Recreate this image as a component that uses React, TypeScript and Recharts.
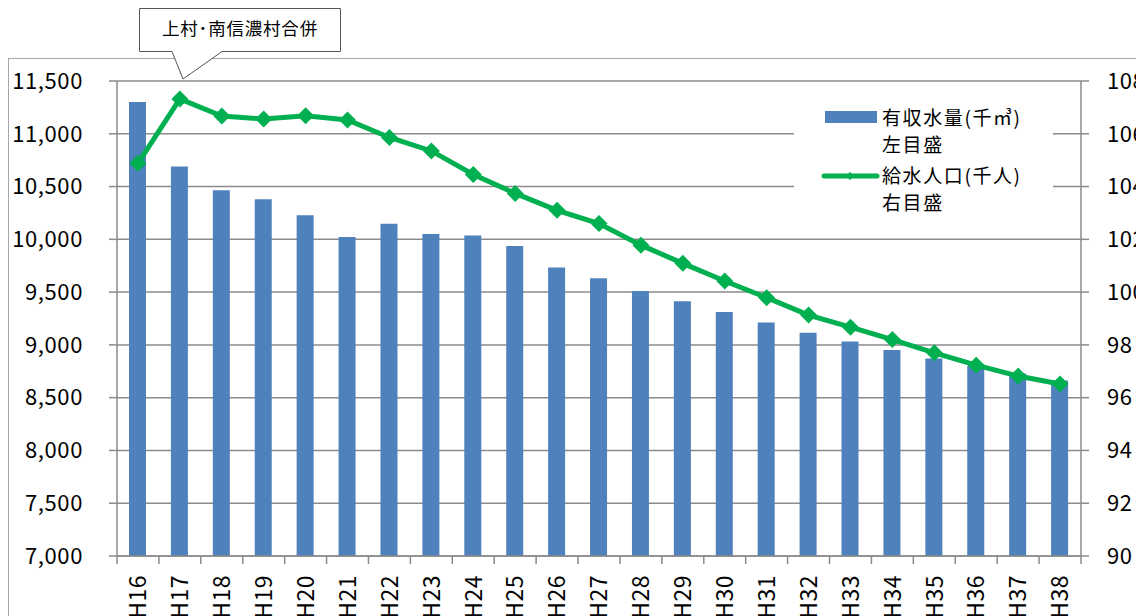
import { ComposedChart, Bar, Line, XAxis, YAxis, CartesianGrid, Legend } from "recharts";

const years = [
  "H16", "H17", "H18", "H19", "H20", "H21", "H22", "H23", "H24", "H25", "H26", "H27",
  "H28", "H29", "H30", "H31", "H32", "H33", "H34", "H35", "H36", "H37", "H38",
];

// 有収水量 (千㎥) - left axis
const waterVolume = [
  11300, 10690, 10465, 10380, 10228, 10023, 10147, 10051, 10036, 9937, 9732, 9631,
  9510, 9413, 9311, 9211, 9116, 9032, 8951, 8872, 8800, 8730, 8663,
];

// 給水人口 (千人) - right axis
const population = [
  104.88, 107.32, 106.67, 106.56, 106.68, 106.52, 105.86, 105.35, 104.46, 103.74, 103.1, 102.6,
  101.78, 101.09, 100.42, 99.79, 99.13, 98.67, 98.2, 97.7, 97.23, 96.82, 96.52,
];

const leftTicks = [7000, 7500, 8000, 8500, 9000, 9500, 10000, 10500, 11000, 11500];
const rightTicks = [90, 92, 94, 96, 98, 100, 102, 104, 106, 108];

const waterLabel = ["有収水量(千㎥)", "左目盛"];
const popLabel = ["給水人口(千人)", "右目盛"];
const noteText = "上村･南信濃村合併";

const data = years.map((name, i) => ({ name, water: waterVolume[i], pop: population[i] }));

const FONT = '"Noto Sans CJK JP", "Noto Sans", sans-serif';
const GRID = "#8b8b8b";
const BLUE = "#4F81BD";
const GREEN = "#00B050";
const W = 1136;
const H = 608;
const PLOT_W = 964;
const HALF_BAND = PLOT_W / years.length / 2;

function XTick(props: any) {
  const { x, y, payload, index } = props;
  const half = payload && payload.offset ? payload.offset : HALF_BAND;
  const ty = y + 19;
  return (
    <g>
      <line x1={x - half} x2={x - half} y1={y} y2={y + 8} stroke={GRID} strokeWidth={1.5} />
      {index === years.length - 1 && (
        <line x1={x + half} x2={x + half} y1={y} y2={y + 8} stroke={GRID} strokeWidth={1.5} />
      )}
      <text
        x={x}
        y={ty}
        dy="0.36em"
        transform={`rotate(-90, ${x}, ${ty})`}
        textAnchor="end"
        fill="#000"
        fontSize={23}
        letterSpacing={0.5}
        fontFamily={FONT}
      >
        {payload.value}
      </text>
    </g>
  );
}

function Diamond(props: any) {
  const { cx, cy } = props;
  if (cx == null || cy == null) return null;
  const r = 8.5;
  return <path d={`M${cx},${cy - r}L${cx + r},${cy}L${cx},${cy + r}L${cx - r},${cy}Z`} fill={GREEN} />;
}

function LegendBox() {
  const textStyle = { fontSize: 19, fontFamily: FONT, fill: "#000", letterSpacing: 1.6 };
  return (
    <svg width={259} height={148} style={{ display: "block", background: "#fff" }}>
      <rect x={31} y={21} width={52} height={12} fill={BLUE} />
      <text x={88} y={28} dy="0.35em" {...textStyle}>{waterLabel[0]}</text>
      <text x={88} y={55} dy="0.35em" {...textStyle}>{waterLabel[1]}</text>
      <line x1={30} x2={83} y1={86} y2={86} stroke={GREEN} strokeWidth={5} strokeLinecap="round" />
      <path d="M56,82L60,86L56,90L52,86Z" fill={GREEN} />
      <text x={88} y={86} dy="0.35em" {...textStyle}>{popLabel[0]}</text>
      <text x={88} y={113} dy="0.35em" {...textStyle}>{popLabel[1]}</text>
    </svg>
  );
}

export default function App() {
  const tickFont = { fill: "#000", fontSize: 22, fontFamily: FONT, letterSpacing: 0.6 };
  return (
    <div style={{ position: "relative", width: W, height: H, overflow: "hidden", fontFamily: FONT }}>
      <div
        style={{
          position: "absolute",
          left: 0,
          top: 50,
          width: 2000,
          height: 2000,
          border: "1.5px solid #a6a6a6",
        }}
      />
      <div style={{ position: "absolute", left: 0, top: 0 }}>
        <ComposedChart width={W} height={H} data={data} margin={{ top: 73, right: 0, bottom: 0, left: 0 }}>
          <CartesianGrid vertical={false} stroke={GRID} strokeWidth={1.5} />
          <XAxis
            dataKey="name"
            interval={0}
            height={60}
            tickSize={0}
            tickMargin={0}
            tickLine={false}
            axisLine={{ stroke: GRID, strokeWidth: 1.5 }}
            tick={<XTick />}
          />
          <YAxis
            domain={[7000, 11500]}
            ticks={leftTicks}
            width={109}
            tickSize={8}
            tickMargin={26}
            axisLine={{ stroke: GRID, strokeWidth: 1.5 }}
            tickLine={{ stroke: GRID, strokeWidth: 1.5 }}
            tick={tickFont}
            tickFormatter={(v: number) => v.toLocaleString("en-US")}
            allowDataOverflow
          />
          <YAxis
            yAxisId="right"
            orientation="right"
            domain={[90, 108]}
            ticks={rightTicks}
            width={63}
            tickSize={8}
            tickMargin={18}
            axisLine={{ stroke: GRID, strokeWidth: 1.5 }}
            tickLine={{ stroke: GRID, strokeWidth: 1.5 }}
            tick={{ ...tickFont, textAnchor: "start" }}
            allowDataOverflow
          />
          <Legend
            layout="vertical"
            align="center"
            verticalAlign="middle"
            wrapperStyle={{ position: "absolute", left: 786, top: 82, width: 259, height: 148 }}
            content={() => <LegendBox />}
          />
          <Bar dataKey="water" fill={BLUE} barSize={17} isAnimationActive={false} />
          <Line
            yAxisId="right"
            type="linear"
            dataKey="pop"
            stroke={GREEN}
            strokeWidth={5}
            dot={<Diamond />}
            activeDot={false}
            isAnimationActive={false}
          />
        </ComposedChart>
      </div>
      <svg
        width={W}
        height={H}
        style={{ position: "absolute", left: 0, top: 0, pointerEvents: "none" }}
      >
        <path
          d="M131.5,0.5H332.5V43.5H214L175,71L164,43.5H131.5Z"
          fill="#fff"
          stroke="#555"
          strokeWidth={1}
        />
        <text
          x={232}
          y={21}
          dy="0.35em"
          textAnchor="middle"
          fontSize={17.5}
          letterSpacing={0.8}
          fontFamily={FONT}
          fill="#000"
        >
          {noteText}
        </text>
      </svg>
    </div>
  );
}
